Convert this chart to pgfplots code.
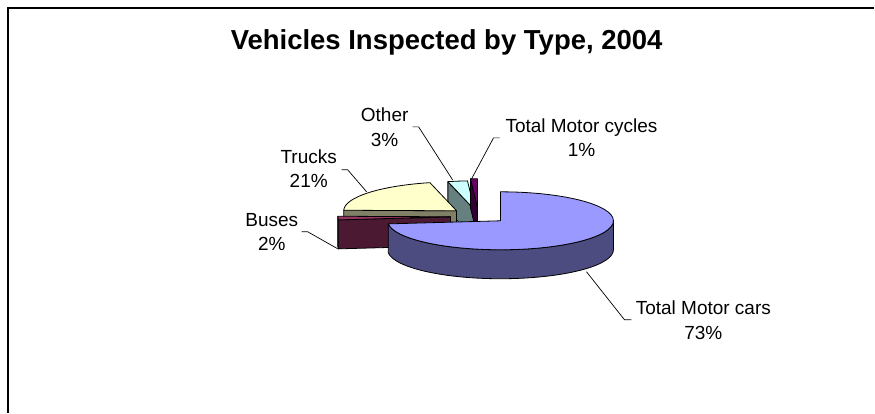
\documentclass[border=0pt]{standalone}
\usepackage{fontspec}
\setmainfont{Liberation Sans}
\usepackage{pgfplots}
\pgfplotsset{compat=1.18}

\definecolor{carsTop}{HTML}{9999FF}
\definecolor{busTop}{HTML}{993366}
\definecolor{truckTop}{HTML}{FFFFCC}
\definecolor{otherTop}{HTML}{CCFFFF}
\definecolor{mcTop}{HTML}{660066}

% shares (percent)
\def\pCars{73.3}
\def\pBuses{2.0}
\def\pTrucks{20.9}
\def\pOther{2.8}
\def\pMC{1.0}
\pgfmathsetmacro\tA{3.6*\pCars}
\pgfmathsetmacro\tB{\tA+3.6*\pBuses}
\pgfmathsetmacro\tC{\tB+3.6*\pTrucks}
\pgfmathsetmacro\tD{\tC+3.6*\pOther}
\pgfmathsetmacro\tE{\tD+3.6*\pMC}

\tikzset{pieedge/.style={draw=black,line width=0.8pt,line join=round}}

% #1 colour, #2 cx, #3 cy, #4 theta1, #5 theta2 (clockwise from 12 o'clock)
\newcommand{\topface}[5]{%
  \filldraw[pieedge,fill=#1,shift={(axis cs:#2,#3)}] (0pt,0pt) -- (90-#4:113pt and 29pt)
    arc[start angle=90-#4,end angle=90-#5,x radius=113pt,y radius=29pt] -- cycle;}
% radial cut face at angle #4
\newcommand{\radface}[4]{%
  \filldraw[pieedge,fill=#1,shift={(axis cs:#2,#3)}] (0pt,0pt) -- (90-#4:113pt and 29pt)
    -- ++(0pt,-29pt) -- (0pt,-29pt) -- cycle;}
% outer curved side between #4 and #5
\newcommand{\sideface}[5]{%
  \filldraw[pieedge,fill=#1,shift={(axis cs:#2,#3)}] (90-#4:113pt and 29pt)
    arc[start angle=90-#4,end angle=90-#5,x radius=113pt,y radius=29pt] -- ++(0pt,-29pt)
    arc[start angle=90-#5,end angle=90-#4,x radius=113pt,y radius=29pt] -- cycle;}

\begin{document}
\begin{tikzpicture}
\begin{axis}[
  hide axis, clip=false,
  x=1pt, y=1pt,
  xmin=0, xmax=875, ymin=0, ymax=413,
  y dir=reverse,
]
\path (axis cs:0,0) rectangle (axis cs:875,413);
% chart area border
\draw[line width=1.6pt,black] (axis cs:8,413) -- (axis cs:8,8) -- (axis cs:875,8);

% title
\node[anchor=base,inner sep=0pt,font=\fontsize{27.5}{33}\selectfont\bfseries] at (axis cs:447,50) {Vehicles Inspected by Type, 2004};

% Other
\radface{otherTop!50!black}{475}{210}{\tC}
\topface{otherTop}{475}{210}{\tC}{\tD}
% Total Motor cycles
\radface{mcTop!50!black}{478}{208}{\tD}
\topface{mcTop}{478}{208}{\tD}{\tE}
% Trucks
\radface{truckTop!50!black}{457}{211}{\tB}
\topface{truckTop}{457}{211}{\tB}{\tC}
% Buses
\radface{busTop!50!black}{451}{217}{\tA}
\sideface{busTop!50!black}{451}{217}{\tA}{270}
\topface{busTop}{451}{217}{\tA}{\tB}
% Total Motor cars
\sideface{carsTop!50!black}{501}{221}{90}{\tA}
\topface{carsTop}{501}{221}{0}{\tA}

% leader lines
\draw[black,line width=0.7pt] (axis cs:472,179) -- (axis cs:494,138) -- (axis cs:500,138);
\draw[black,line width=0.7pt] (axis cs:453,180) -- (axis cs:419,127) -- (axis cs:413,127);
\draw[black,line width=0.7pt] (axis cs:367,192) -- (axis cs:348,170) -- (axis cs:342,170);
\draw[black,line width=0.7pt] (axis cs:338,249) -- (axis cs:308,232) -- (axis cs:302,232);
\draw[black,line width=0.7pt] (axis cs:587,272) -- (axis cs:625,320) -- (axis cs:632,320);

% labels
\tikzset{lbl/.style={anchor=base,font=\fontsize{19}{23}\selectfont,inner sep=0pt}}
\node[lbl] at (axis cs:582,133) {Total Motor cycles};
\node[lbl] at (axis cs:582,157) {1\%};
\node[lbl] at (axis cs:385,122) {Other};
\node[lbl] at (axis cs:385,147) {3\%};
\node[lbl] at (axis cs:309,164) {Trucks};
\node[lbl] at (axis cs:309,188) {21\%};
\node[lbl] at (axis cs:272,227) {Buses};
\node[lbl] at (axis cs:272,251) {2\%};
\node[lbl] at (axis cs:704,315) {Total Motor cars};
\node[lbl] at (axis cs:704,340) {73\%};
\end{axis}
\end{tikzpicture}
\end{document}
